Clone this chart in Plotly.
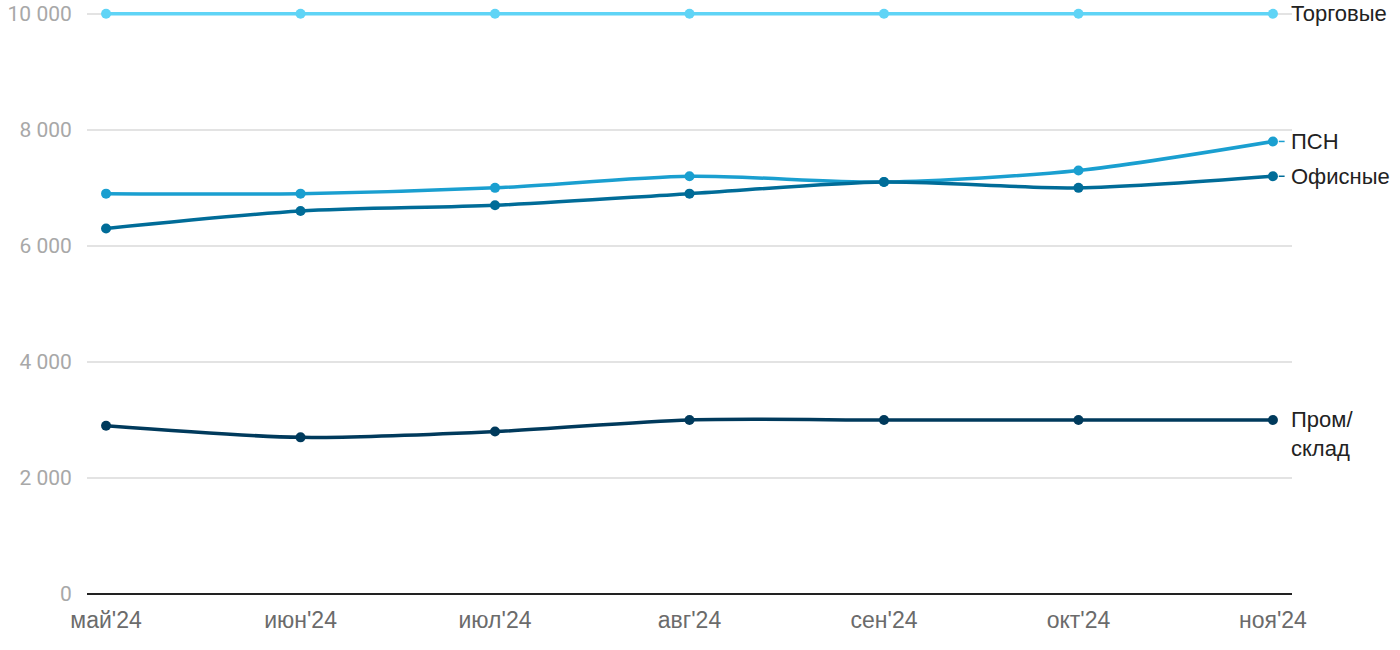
import plotly.graph_objects as go

months = ["май'24", "июн'24", "июл'24", "авг'24", "сен'24", "окт'24", "ноя'24"]
trade = [10000, 10000, 10000, 10000, 10000, 10000, 10000]
psn = [6900, 6900, 7000, 7200, 7100, 7300, 7800]
office = [6300, 6600, 6700, 6900, 7100, 7000, 7200]
prom = [2900, 2700, 2800, 3000, 3000, 3000, 3000]

series_names = ["Торговые", "ПСН", "Офисные", "Пром/<br>склад"]
series_vals = [trade, psn, office, prom]
colors = ["#5fd4f6", "#1a9fd0", "#006c98", "#003a5c"]
y_ticks = [0, 2000, 4000, 6000, 8000, 10000]
y_ticktext = ["0", "2 000", "4 000", "6 000", "8 000", "10 000"]

xs = list(range(len(months)))
fig = go.Figure()
for name, vals, c in zip(series_names, series_vals, colors):
    fig.add_trace(go.Scatter(
        x=xs, y=vals, mode="lines+markers",
        line=dict(color=c, width=3.5, shape="spline", smoothing=0.8),
        marker=dict(color=c, size=10),
        cliponaxis=False, showlegend=False, name=name,
    ))

last = len(months) - 1
for name, vals, c in zip(series_names, series_vals, colors):
    two_line = "<br>" in name
    fig.add_annotation(
        x=1, xref="paper", y=vals[-1], yref="y",
        text=name, showarrow=False, xanchor="left",
        yanchor="top" if two_line else "middle",
        yshift=15 if two_line else 0,
        align="left", xshift=-3,
        font=dict(family="Liberation Sans, Arial", size=22, color="#222"),
    )
    if name in ("ПСН", "Офисные"):
        fig.add_shape(type="line", xref="x", yref="y",
                      x0=last + 0.03, x1=last + 0.06, y0=vals[-1], y1=vals[-1],
                      line=dict(color=c, width=1.5))

fig.update_layout(
    width=1400, height=650,
    margin=dict(l=87, r=108, t=8, b=56),
    paper_bgcolor="white", plot_bgcolor="white",
    xaxis=dict(
        range=[-0.098, 6.098], tickvals=xs, ticktext=months,
        showgrid=False, zeroline=False, showline=False, automargin=False,
        tickfont=dict(family="Liberation Sans, Arial", size=23, color="#6b6b6b"),
        ticks="outside", ticklen=5, tickcolor="rgba(0,0,0,0)",
        ticklabeloverflow="allow",
    ),
    yaxis=dict(
        range=[0, 10100], tickvals=y_ticks, ticktext=y_ticktext,
        showgrid=True, gridcolor="#e3e3e3", gridwidth=1.5,
        zeroline=True, zerolinecolor="#222", zerolinewidth=2,
        showline=False, automargin=False,
        tickfont=dict(family="Roboto", size=21, color="#a8a8a8"),
        ticks="outside", ticklen=10, tickcolor="rgba(0,0,0,0)",
        ticklabeloverflow="allow",
    ),
)
fig.write_html("out.html", config={"displayModeBar": False},
               post_script="document.body.style.margin='0';document.body.style.overflow='hidden';")
